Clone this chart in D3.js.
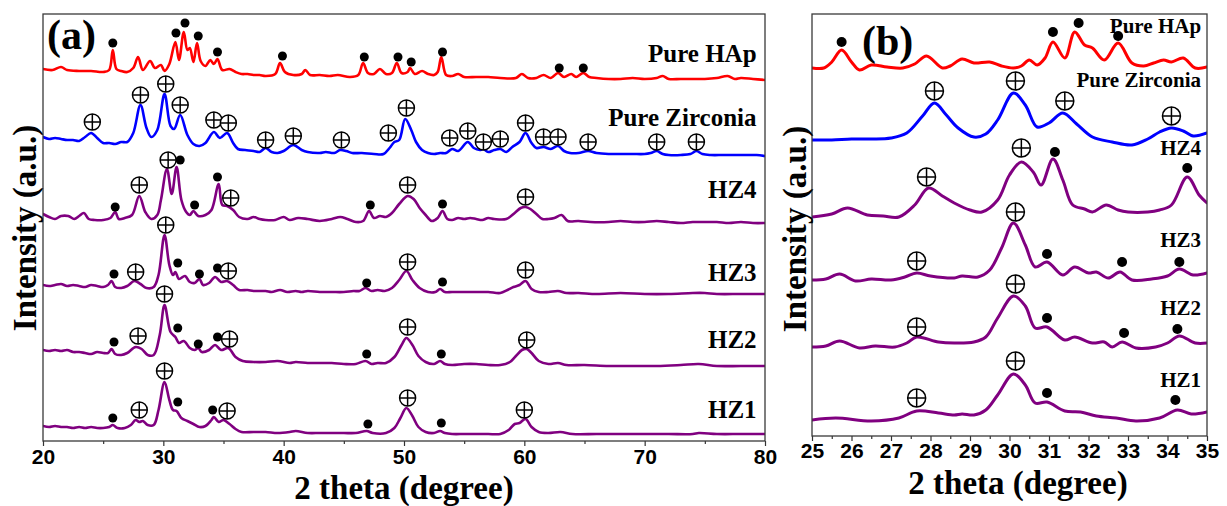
<!DOCTYPE html>
<html><head><meta charset="utf-8">
<script src="https://cdn.jsdelivr.net/npm/d3@7"></script>
<style>body{margin:0;background:#fff;} svg{display:block;}</style>
</head><body>
<svg id="chart" width="1227" height="506"></svg>
<script>
// ---------------- data ----------------
const seriesNames = ["Pure HAp", "Pure Zirconia", "HZ4", "HZ3", "HZ2", "HZ1"];
const seriesColors = ["#ff0000", "#0000ff", "#800080", "#800080", "#800080", "#800080"];

const ticksA = [20, 30, 40, 50, 60, 70, 80];
const minorTicksA = [25, 35, 45, 55, 65, 75];
const ticksB = [25, 26, 27, 28, 29, 30, 31, 32, 33, 34, 35];
const minorTicksB = [25.5, 26.5, 27.5, 28.5, 29.5, 30.5, 31.5, 32.5, 33.5, 34.5];

// panel (a): [2theta, intensity a.u.]
const aHAp = [[20.0,372],[20.8,371],[21.5,374],[22.0,371],[23.0,370],[24.0,370],[25.0,369],[25.5,371],[25.8,391],[26.1,372],[26.5,370],[27.0,369],[27.5,373],[27.9,384],[28.3,371],[28.9,380],[29.3,373],[29.8,376],[30.1,370],[30.5,377],[31.0,399],[31.3,381],[31.7,409],[32.0,391],[32.2,393],[32.5,379],[32.8,398],[33.1,380],[33.5,375],[33.9,381],[34.2,377],[34.5,382],[34.9,371],[35.5,372],[36.0,369],[36.5,367],[37.0,367],[37.5,366],[38.0,366],[38.5,365],[39.3,367],[39.7,378],[40.1,369],[40.8,366],[41.5,367],[41.8,371],[42.2,366],[43.0,366],[43.8,365],[44.5,366],[45.5,364],[46.2,366],[46.6,378],[47.0,368],[47.5,367],[48.0,372],[48.5,367],[49.0,368],[49.4,378],[49.8,368],[50.3,369],[50.5,373],[50.9,367],[51.5,370],[52.0,367],[52.5,366],[52.8,369],[53.1,384],[53.5,366],[54.0,365],[54.5,367],[55.0,364],[56.0,364],[57.0,364],[58.0,363],[59.3,363],[59.8,367],[60.3,363],[61.0,363],[61.6,366],[62.2,363],[62.8,368],[63.3,364],[63.9,367],[64.3,364],[64.9,368],[65.4,364],[66.0,363],[67.0,362],[68.0,362],[69.0,363],[70.0,362],[71.0,363],[71.5,365],[72.0,362],[73.0,362],[74.0,362],[75.0,362],[76.0,363],[76.9,365],[77.5,362],[78.0,363],[79.0,362],[80.0,361]];
const aZr = [[20.0,304],[20.5,302],[21.0,303],[21.5,302],[22.0,301],[22.5,301],[23.0,300],[23.5,304],[24.0,308],[24.5,303],[25.0,298],[25.5,298],[26.0,297],[26.5,299],[27.0,299],[27.5,308],[28.1,336],[28.6,313],[29.0,304],[29.5,311],[30.1,347],[30.6,315],[30.9,312],[31.4,326],[32.0,306],[32.5,297],[33.0,295],[33.5,298],[34.2,309],[34.7,303],[35.3,308],[35.8,298],[36.2,292],[36.8,291],[37.5,290],[38.0,289],[38.5,293],[39.0,289],[39.5,288],[40.0,290],[40.8,296],[41.5,291],[42.0,289],[43.0,288],[43.5,289],[44.2,288],[44.7,291],[45.2,290],[45.7,288],[46.5,288],[47.5,287],[48.3,287],[48.8,293],[49.2,299],[49.6,301],[50.1,322],[50.6,311],[51.0,299],[51.5,291],[52.0,288],[52.5,287],[53.0,288],[53.5,288],[54.0,292],[54.5,290],[55.3,299],[55.8,293],[56.3,291],[56.6,292],[57.0,289],[57.5,291],[58.0,292],[58.5,289],[59.0,294],[59.6,299],[60.1,308],[60.6,298],[61.0,293],[61.6,294],[62.2,292],[62.8,295],[63.3,290],[63.8,288],[64.5,288],[65.3,290],[66.0,288],[67.0,287],[68.0,287],[69.0,287],[70.0,287],[70.5,288],[71.0,290],[71.5,287],[72.0,286],[73.0,286],[73.8,287],[74.3,290],[74.8,287],[75.5,286],[76.5,286],[77.5,286],[78.5,286],[79.3,286],[80.0,285]];
const aHZ4 = [[20.0,227],[20.5,224],[21.0,222],[21.5,225],[22.1,225],[22.6,222],[23.0,225],[23.4,228],[23.8,222],[24.3,221],[25.0,221],[25.6,223],[26.0,229],[26.3,222],[26.8,223],[27.4,226],[28.0,245],[28.5,229],[29.0,222],[29.5,226],[29.8,241],[30.3,272],[30.7,247],[31.1,274],[31.5,241],[31.9,229],[32.2,226],[32.5,230],[32.9,225],[33.5,226],[34.0,231],[34.6,257],[34.9,236],[35.3,235],[35.8,231],[36.3,224],[37.0,222],[37.5,224],[38.0,222],[38.5,221],[39.3,221],[40.0,224],[40.5,221],[41.2,223],[42.0,222],[43.0,220],[44.0,222],[44.7,224],[45.3,222],[46.0,219],[46.6,220],[47.1,230],[47.5,223],[48.0,225],[48.5,224],[49.0,228],[49.6,237],[50.3,245],[50.8,242],[51.3,233],[51.8,226],[52.3,220],[52.8,223],[53.2,230],[53.6,222],[54.0,221],[54.5,223],[55.0,222],[55.5,223],[56.0,222],[56.5,221],[57.0,223],[57.5,222],[58.5,222],[59.2,228],[59.7,233],[60.1,234],[60.5,232],[61.0,227],[61.5,222],[62.0,222],[62.5,223],[63.1,226],[63.6,220],[64.5,220],[65.5,219],[67.0,219],[68.0,220],[69.0,219],[70.0,219],[71.0,220],[72.0,219],[73.0,218],[74.0,219],[75.0,219],[76.0,219],[77.0,218],[78.0,219],[79.0,218],[80.0,218]];
const aHZ3 = [[20.0,156],[20.5,155],[21.0,156],[21.5,157],[22.0,155],[22.5,156],[23.0,155],[23.5,154],[24.0,156],[24.5,155],[25.0,154],[25.4,156],[25.7,160],[26.0,154],[26.5,153],[27.0,155],[27.6,160],[28.1,157],[28.6,153],[29.2,154],[29.6,166],[30.1,206],[30.5,176],[30.8,166],[31.0,169],[31.3,162],[31.8,165],[32.2,159],[32.6,158],[33.0,162],[33.3,156],[33.8,158],[34.3,164],[34.8,159],[35.3,160],[35.8,156],[36.3,151],[37.0,151],[37.5,150],[38.5,150],[39.0,149],[39.7,151],[40.3,149],[41.0,150],[41.5,149],[42.0,150],[43.0,149],[44.0,149],[45.0,149],[45.8,150],[46.3,150],[46.8,153],[47.3,150],[47.8,151],[48.4,150],[49.0,153],[49.6,161],[50.2,170],[50.7,161],[51.3,153],[52.0,149],[52.6,149],[53.0,152],[53.4,149],[54.0,149],[55.0,149],[56.0,149],[57.0,149],[58.0,148],[58.6,151],[59.1,154],[59.6,156],[60.1,160],[60.6,152],[61.2,149],[62.0,149],[62.8,150],[63.5,148],[64.5,148],[66.0,147],[68.0,148],[70.0,147],[72.0,147],[74.0,148],[75.0,148],[76.0,147],[78.0,147],[80.0,147]];
const aHZ2 = [[20.0,91],[20.5,90],[21.0,91],[21.5,90],[22.0,91],[22.5,89],[23.0,89],[23.5,88],[24.0,87],[24.5,89],[25.0,88],[25.4,88],[25.7,92],[26.0,87],[26.5,86],[27.0,88],[27.7,94],[28.2,92],[28.7,86],[29.2,86],[29.7,106],[30.1,136],[30.6,109],[31.0,104],[31.3,98],[31.7,100],[32.2,93],[32.6,91],[32.9,93],[33.2,89],[33.8,91],[34.3,96],[34.8,91],[35.4,93],[36.0,84],[36.6,80],[37.5,79],[38.5,79],[39.5,80],[40.5,78],[41.0,79],[42.0,78],[43.0,78],[44.0,78],[45.0,77],[46.0,77],[46.8,80],[47.3,77],[47.8,78],[48.5,78],[49.2,84],[49.8,96],[50.2,103],[50.7,96],[51.2,85],[51.8,79],[52.5,77],[53.0,80],[53.4,77],[54.0,76],[55.0,77],[56.0,77],[57.0,76],[58.0,76],[58.8,79],[59.3,85],[59.8,91],[60.2,92],[60.6,88],[61.2,80],[62.0,77],[62.8,78],[63.5,76],[65.0,76],[67.0,75],[69.0,75],[71.0,75],[73.0,76],[74.5,77],[76.0,75],[78.0,75],[80.0,75]];
const aHZ1 = [[20.0,15],[20.5,14],[21.0,15],[21.5,14],[22.0,14],[22.5,13],[23.0,14],[23.5,13],[24.0,14],[24.5,13],[25.0,13],[25.5,14],[25.8,16],[26.2,13],[26.8,13],[27.3,16],[27.7,21],[28.0,19],[28.3,20],[28.7,16],[29.2,16],[29.6,31],[30.1,59],[30.5,41],[30.8,31],[31.1,30],[31.5,23],[32.0,20],[32.5,17],[33.0,14],[33.5,15],[34.0,21],[34.2,24],[34.6,19],[35.0,21],[35.5,17],[36.0,12],[36.5,9],[37.5,9],[38.5,9],[39.5,8],[40.5,9],[41.0,10],[42.0,8],[43.0,8],[44.0,8],[45.0,8],[46.0,8],[46.9,10],[47.4,8],[48.5,8],[49.2,13],[49.7,23],[50.2,33],[50.7,25],[51.2,14],[51.8,9],[52.5,8],[53.0,10],[53.4,8],[54.0,7],[55.0,7],[56.0,7],[57.0,7],[58.0,7],[58.7,11],[59.2,17],[59.6,18],[60.1,22],[60.6,14],[61.2,9],[62.0,8],[63.0,9],[64.0,7],[66.0,7],[68.0,7],[70.0,7],[72.0,7],[74.0,7],[74.5,8],[76.0,7],[78.0,7],[80.0,7]];

// panel (a) phase markers: filled dot = HAp, circled plus = zirconia
const aDots = [[25.8,398],[31.05,408],[31.8,418],[32.9,405],[34.5,389],[39.9,385],[46.7,384],[49.5,384],[50.6,379],[53.2,389],[62.9,373],[64.9,373],
  [26.0,234],[31.4,281],[32.6,236],[34.5,264],[47.2,236],[53.2,237],
  [25.9,167],[31.2,178],[33.0,167],[34.5,173],[46.9,158],[53.2,159],
  [25.9,99],[31.2,113],[32.9,97],[34.5,104],[46.9,87],[53.1,87],
  [25.8,23],[31.2,39],[34.1,31],[47.0,17],[53.1,18]];
const aPlus = [[24.1,319],[28.1,346],[30.2,357],[31.4,336],[34.2,321],[35.4,318],[38.5,301],[40.8,305],[44.8,301],[48.7,308],[50.2,333],[53.8,303],[55.3,310],[56.6,299],[58.0,302],[60.1,318],[61.6,304],[62.8,304],[65.3,299],[71.0,299],[74.3,299],
  [28.0,256],[30.4,281],[35.6,243],[50.3,256],[60.1,244],
  [27.7,169],[30.2,216],[35.4,170],[50.3,179],[60.1,171],
  [27.9,105],[30.1,147],[35.5,102],[50.3,114],[60.2,101],
  [28.0,31],[30.1,70],[35.3,30],[50.3,43],[60.0,31]];
const aLabelLevels = [379, 315, 243, 160, 93, 23];

// panel (b): [2theta, intensity a.u.]
const bHAp = [[25.0,368],[25.3,368],[25.5,374],[25.75,386],[26.0,374],[26.2,366],[26.5,371],[26.9,369],[27.3,368],[27.6,372],[27.9,380],[28.3,368],[28.5,370],[28.8,377],[29.1,373],[29.5,374],[29.8,370],[30.1,368],[30.3,370],[30.5,376],[30.7,371],[30.9,378],[31.1,394],[31.4,378],[31.65,404],[31.9,391],[32.1,388],[32.4,376],[32.75,393],[33.1,373],[33.4,370],[33.65,373],[33.9,376],[34.1,374],[34.4,378],[34.7,368],[35.0,369]];
const bZr = [[25.0,296],[25.5,296],[26.0,297],[26.5,297],[27.0,298],[27.4,303],[27.8,320],[28.1,333],[28.4,321],[28.7,308],[29.1,299],[29.4,302],[29.7,316],[30.1,343],[30.4,331],[30.7,309],[31.0,313],[31.35,323],[31.7,312],[32.1,299],[32.6,294],[33.1,291],[33.5,297],[33.8,304],[34.1,308],[34.4,305],[34.65,300],[35.0,303]];
const bHZ4 = [[25.0,219],[25.5,222],[25.9,228],[26.4,221],[26.8,220],[27.2,219],[27.6,231],[27.95,248],[28.3,240],[28.6,233],[29.0,226],[29.3,224],[29.7,236],[30.0,261],[30.3,274],[30.6,264],[30.8,251],[31.1,277],[31.35,256],[31.6,231],[31.9,227],[32.1,224],[32.45,231],[32.75,226],[33.0,224],[33.5,224],[33.8,226],[34.1,231],[34.5,259],[34.8,241],[35.0,233]];
const bHZ3 = [[25.0,156],[25.35,157],[25.7,162],[26.1,155],[26.5,157],[27.0,156],[27.35,159],[27.65,163],[28.0,160],[28.6,158],[28.8,160],[29.2,159],[29.5,166],[29.8,188],[30.1,213],[30.4,191],[30.65,169],[30.95,174],[31.35,161],[31.65,169],[32.0,163],[32.2,164],[32.5,158],[32.8,164],[33.1,156],[33.6,157],[34.0,160],[34.3,167],[34.65,161],[35.0,163]];
const bHZ2 = [[25.0,89],[25.35,90],[25.7,95],[26.2,88],[26.6,90],[27.1,89],[27.4,93],[27.65,99],[28.2,94],[28.6,93],[29.1,94],[29.4,99],[29.7,118],[30.1,140],[30.4,130],[30.65,108],[30.95,109],[31.4,96],[31.65,99],[32.1,93],[32.4,94],[32.6,89],[32.85,94],[33.2,88],[33.7,89],[34.0,93],[34.3,100],[34.7,93],[35.0,93]];
const bHZ1 = [[25.0,16],[25.6,18],[26.5,15],[27.2,18],[27.65,25],[28.2,23],[28.6,21],[28.8,22],[29.1,21],[29.4,26],[29.7,41],[30.1,62],[30.4,51],[30.65,33],[30.95,34],[31.4,25],[31.8,24],[32.2,20],[32.7,18],[33.2,15],[33.8,18],[34.25,26],[34.6,22],[35.0,24]];

const bDots = [[25.75,394],[31.1,404],[31.75,413],[32.75,400],
  [31.15,284],[34.5,268],
  [30.95,182],[32.85,174],[34.3,174],
  [30.95,118],[32.9,103],[34.25,107],
  [30.95,43],[34.2,36]];
const bPlus = [[28.1,345],[30.15,355],[31.4,335],[34.1,320],
  [27.9,259],[30.3,288],
  [27.65,175],[30.15,224],
  [27.65,109],[30.15,152],
  [27.65,38],[30.15,75]];
const bLabelLevels = [403, 349, 281, 189, 121, 49];

const seriesA = [aHAp, aZr, aHZ4, aHZ3, aHZ2, aHZ1];
const seriesB = [bHAp, bZr, bHZ4, bHZ3, bHZ2, bHZ1];

// ---------------- drawing ----------------
const svg = d3.select("#chart");
const SERIF = "'Liberation Serif','Times New Roman',serif";
const SANS = "'Liberation Sans',Arial,sans-serif";

function panel(cfg) {
  const {x, y, series, dots, plus, ticks, minor, labelLevels, labelX, lw, labelSize,
         tag, tagPos, tickPad, plusR, dotR, xTitleY, xTitleX, yTitleX, yTitleY, id} = cfg;
  const [x0, x1] = x.range();
  const [y0, y1] = y.range(); // y0 bottom, y1 top

  svg.append("clipPath").attr("id", id).append("rect")
    .attr("x", x0).attr("y", y1).attr("width", x1 - x0).attr("height", y0 - y1);

  const line = d3.line().x(d => x(d[0])).y(d => y(d[1])).curve(d3.curveCatmullRom.alpha(0.5));
  const g = svg.append("g").attr("clip-path", `url(#${id})`);
  series.forEach((s, i) => {
    g.append("path").attr("d", line(s)).attr("fill", "none")
      .attr("stroke", seriesColors[i]).attr("stroke-width", lw)
      .attr("stroke-linejoin", "round").attr("stroke-linecap", "round");
  });

  // axis
  const ax = svg.append("g").attr("transform", `translate(0,${y0})`)
    .call(d3.axisBottom(x).tickValues(ticks).tickSize(5).tickPadding(tickPad).tickFormat(d3.format("d")));
  ax.select(".domain").remove();
  ax.selectAll("line").attr("stroke", "#333").attr("stroke-width", 1.2);
  ax.selectAll("text").attr("font-family", SANS).attr("font-weight", "bold")
    .attr("font-size", 21).attr("fill", "#000");
  const mx = svg.append("g").attr("transform", `translate(0,${y0})`)
    .call(d3.axisBottom(x).tickValues(minor).tickSize(3).tickFormat(""));
  mx.select(".domain").remove();
  mx.selectAll("line").attr("stroke", "#333").attr("stroke-width", 1.2);

  // frame
  svg.append("rect").attr("x", x0).attr("y", y1).attr("width", x1 - x0).attr("height", y0 - y1)
    .attr("fill", "none").attr("stroke", "#3a3a3a").attr("stroke-width", 1.3);

  // markers
  svg.append("g").selectAll("circle").data(dots).join("circle")
    .attr("cx", d => x(d[0])).attr("cy", d => y(d[1])).attr("r", dotR).attr("fill", "#000");
  const pg = svg.append("g").selectAll("g").data(plus).join("g")
    .attr("transform", d => `translate(${x(d[0])},${y(d[1])})`);
  pg.append("circle").attr("r", plusR).attr("fill", "#fff").attr("stroke", "#000").attr("stroke-width", 1.5);
  pg.append("line").attr("x1", -plusR).attr("x2", plusR).attr("stroke", "#000").attr("stroke-width", 1.5);
  pg.append("line").attr("y1", -plusR).attr("y2", plusR).attr("stroke", "#000").attr("stroke-width", 1.5);

  // series labels
  svg.append("g").selectAll("text").data(seriesNames).join("text")
    .attr("x", x(labelX)).attr("y", (d, i) => y(labelLevels[i]))
    .attr("text-anchor", "end").attr("font-family", SERIF).attr("font-weight", "bold")
    .attr("font-size", labelSize).attr("fill", "#000").text(d => d);

  // panel tag
  svg.append("text").attr("x", tagPos[0]).attr("y", tagPos[1])
    .attr("font-family", SERIF).attr("font-weight", "bold").attr("font-size", 42).text(tag);

  // axis titles
  svg.append("text").attr("x", xTitleX).attr("y", xTitleY).attr("text-anchor", "middle")
    .attr("font-family", SERIF).attr("font-weight", "bold").attr("font-size", 33).text("2 theta (degree)");
  svg.append("text").attr("transform", `translate(${yTitleX},${yTitleY}) rotate(-90)`)
    .attr("text-anchor", "middle").attr("font-family", SERIF).attr("font-weight", "bold")
    .attr("font-size", 33).text("Intensity (a.u.)");
}

const xA = d3.scaleLinear().domain([20, 80]).range([43, 765]);
const yA = d3.scaleLinear().domain([0, 427]).range([441, 14]);
const xB = d3.scaleLinear().domain([25, 35]).range([812, 1207]);
const yB = d3.scaleLinear().domain([0, 422]).range([436, 14]);

panel({id: "clipA", x: xA, y: yA, series: seriesA, dots: aDots, plus: aPlus,
  ticks: ticksA, minor: minorTicksA, labelLevels: aLabelLevels, labelX: 79.3, lw: 2.6,
  labelSize: 25, tag: "(a)", tagPos: [47, 49], tickPad: 3.5, plusR: 8, dotR: 4.5,
  xTitleX: 404, xTitleY: 498.5, yTitleX: 36, yTitleY: 228});
panel({id: "clipB", x: xB, y: yB, series: seriesB, dots: bDots, plus: bPlus,
  ticks: ticksB, minor: minorTicksB, labelLevels: bLabelLevels, labelX: 34.85, lw: 3,
  labelSize: 21, tag: "(b)", tagPos: [862, 55], tickPad: 2, plusR: 9, dotR: 5,
  xTitleX: 1018, xTitleY: 494, yTitleX: 806, yTitleY: 229});
</script>
</body></html>
